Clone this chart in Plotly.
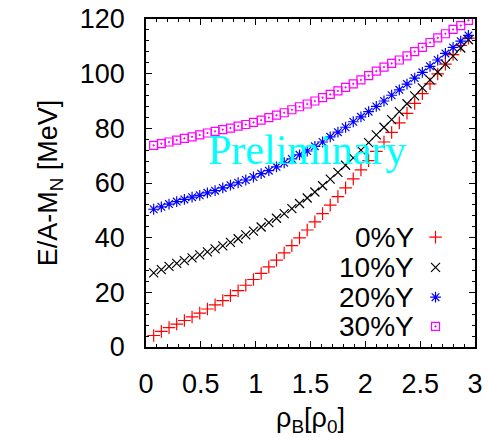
import plotly.graph_objects as go

rho = [0.07, 0.14, 0.21, 0.28, 0.35, 0.42, 0.49, 0.56, 0.63, 0.70,
       0.77, 0.84, 0.91, 0.98, 1.05, 1.12, 1.19, 1.26, 1.33, 1.40,
       1.47, 1.54, 1.61, 1.68, 1.75, 1.82, 1.89, 1.96, 2.03, 2.10,
       2.17, 2.24, 2.31, 2.38, 2.45, 2.52, 2.59, 2.66, 2.73, 2.80,
       2.87, 2.94]

e_0y = [4.2, 5.7, 7.1, 8.4, 9.7, 11.0, 12.4, 13.9, 15.4, 17.0,
        18.8, 20.6, 22.6, 24.7, 26.9, 29.3, 31.8, 34.4, 37.1, 39.9,
        42.8, 45.8, 48.8, 51.9, 55.0, 58.2, 61.5, 64.8, 68.2, 71.6,
        75.0, 78.5, 82.0, 85.5, 89.1, 92.7, 96.3, 99.9, 103.5, 107.0,
        110.3, 113.0]

e_10y = [27.1, 28.3, 29.5, 30.6, 31.6, 32.6, 33.7, 34.8, 35.9, 37.0,
         38.3, 39.6, 41.0, 42.4, 43.9, 45.5, 47.1, 48.8, 50.6, 52.5,
         54.5, 56.7, 59.0, 61.4, 63.9, 66.5, 69.2, 72.0, 74.8, 77.6,
         80.4, 83.2, 86.1, 89.0, 91.9, 94.8, 97.7, 100.6, 103.5, 106.4,
         109.4, 112.4]

e_20y = [50.4, 51.3, 52.3, 53.2, 54.0, 54.8, 55.5, 56.4, 57.2, 58.2,
         59.2, 60.1, 61.1, 62.2, 63.4, 64.5, 65.9, 67.4, 68.8, 70.3,
         71.7, 73.4, 75.0, 76.9, 78.6, 80.4, 82.4, 84.2, 86.1, 88.0,
         90.0, 92.1, 94.1, 96.2, 98.4, 100.5, 102.7, 105.0, 107.4, 109.6,
         111.9, 114.0]

e_30y = [73.8, 74.4, 75.0, 75.7, 76.3, 76.9, 77.6, 78.3, 78.9, 79.5,
         80.1, 80.8, 81.4, 82.2, 83.0, 83.9, 84.8, 85.7, 86.8, 87.9,
         88.9, 90.0, 91.2, 92.4, 93.7, 95.0, 96.3, 97.7, 99.3, 100.9,
         102.4, 103.8, 105.0, 106.5, 108.1, 109.6, 111.4, 113.1, 114.6, 116.2,
         117.6, 119.5]

labels = ["0%Y", "10%Y", "20%Y", "30%Y"]
series = [e_0y, e_10y, e_20y, e_30y]
colors = ["#FF0000", "#000000", "#0000FF", "#FF00FF"]
symbols = ["cross-thin-open", "x-thin-open", "asterisk-open", "square-open-dot"]
sizes = [9, 9, 9, 8]

# legend key layout (paper fractions of the plot area)
key_x = 0.88
key_text_x = 0.822
key_y = [0.335, 0.243, 0.152, 0.063]

fig = go.Figure()
for lab, ys, c, s, sz in zip(labels, series, colors, symbols, sizes):
    fig.add_trace(go.Scatter(
        x=rho, y=ys, mode="markers", name=lab, showlegend=False,
        marker=dict(symbol=s, size=sz, color=c, line=dict(width=1.2, color=c)),
    ))

# legend keys
for i, (lab, c, s, sz) in enumerate(zip(labels, colors, symbols, sizes)):
    fig.add_trace(go.Scatter(
        x=[key_x], y=[key_y[i]], xaxis="x2", yaxis="y2", mode="markers",
        showlegend=False, hoverinfo="skip",
        marker=dict(symbol=s, size=sz, color=c, line=dict(width=1.2, color=c)),
    ))
    fig.add_annotation(
        x=key_text_x, y=key_y[i], xref="paper", yref="paper", text=lab,
        showarrow=False, xanchor="right", yanchor="middle",
        font=dict(family="Liberation Sans, Arial", size=28, color="black"),
    )

fig.add_annotation(
    x=0.49, y=0.6, xref="paper", yref="paper", text="Preliminary",
    showarrow=False, xanchor="center", yanchor="middle",
    font=dict(family="Liberation Serif, Times New Roman", size=42, color="#00FFFF"),
)

axis_font = dict(family="Liberation Sans, Arial", size=27, color="black")
title_font = dict(family="Liberation Sans, Arial", size=27, color="black")

fig.update_layout(
    width=489, height=437,
    margin=dict(l=145.5, r=13.5, t=19, b=90),
    paper_bgcolor="white", plot_bgcolor="white",
    showlegend=False,
    xaxis=dict(
        range=[0, 3], tickvals=[0, 0.5, 1, 1.5, 2, 2.5, 3],
        ticktext=["0", "0.5", "1", "1.5", "2", "2.5", "3"],
        ticks="inside", ticklen=6, tickwidth=1, tickcolor="black",
        minor=dict(dtick=0.1, ticks="inside", ticklen=3, tickcolor="black"),
        showline=True, linecolor="black", linewidth=1.5, mirror="ticks",
        showgrid=False, zeroline=False, tickfont=axis_font,
        ticklabelstandoff=12, automargin=False,
        title=dict(text="ρ<sub>B</sub>[ρ<sub>0</sub>]", font=title_font, standoff=24),
    ),
    yaxis=dict(
        range=[0, 120], tickvals=[0, 20, 40, 60, 80, 100, 120],
        ticks="inside", ticklen=6, tickwidth=1, tickcolor="black",
        minor=dict(dtick=4, ticks="inside", ticklen=3, tickcolor="black"),
        showline=True, linecolor="black", linewidth=1.5, mirror="ticks",
        showgrid=False, zeroline=False, tickfont=axis_font,
        ticklabelstandoff=14, automargin=False,
        title=dict(text="E/A-M<sub>N</sub> [MeV]", font=title_font, standoff=14),
    ),
    xaxis2=dict(range=[0, 1], overlaying="x", visible=False),
    yaxis2=dict(range=[0, 1], overlaying="y", visible=False),
)

fig.write_html("out.html")
